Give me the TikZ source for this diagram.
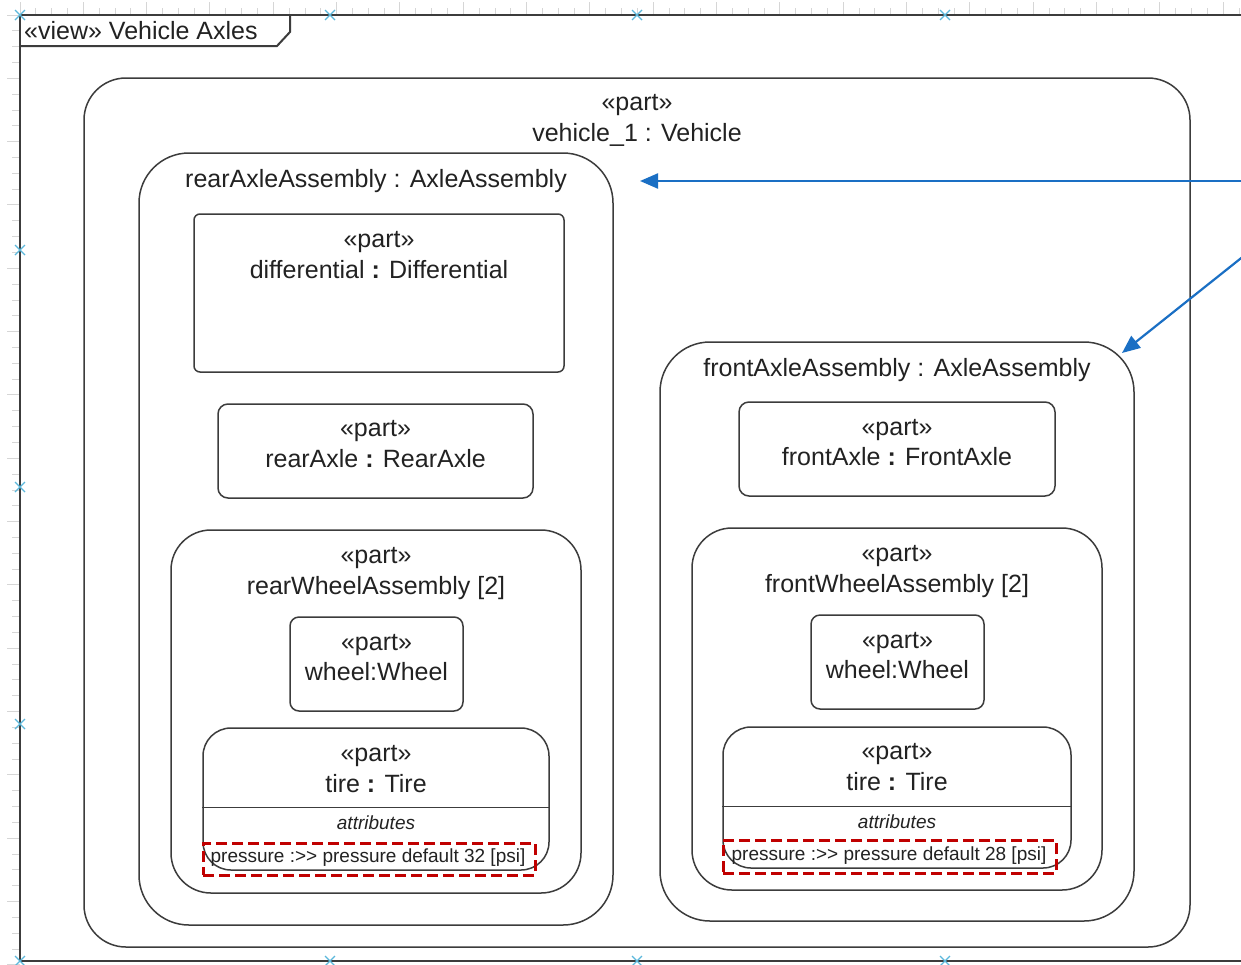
\documentclass[tikz,border=0pt]{standalone}
\usepackage{fontspec}
\setmainfont{Liberation Sans}
\usetikzlibrary{arrows.meta}

\definecolor{edge}{HTML}{3C3C3C}
\definecolor{ink}{HTML}{222222}
\definecolor{link}{HTML}{1A6FC4}
\definecolor{flag}{HTML}{C00000}
\definecolor{rulegray}{HTML}{D6D6D6}
\definecolor{anchorblue}{HTML}{5BB8DC}

% rounded part box spanning (x1,y1)-(x2,y2): name, x1, y1, x2, y2, radius
\newcommand\partframe[6]{%
  \node[partbox, rounded corners=#6pt, minimum width={#4pt-#2pt}, minimum height={#5pt-#3pt}]
    (#1) at ({(#2+#4)/2},{(#3+#5)/2}) {};}
% dashed highlight spanning (x1,y1)-(x2,y2)
\newcommand\flagframe[5]{%
  \node[hilite, minimum width={#4pt-#2pt}, minimum height={#5pt-#3pt}]
    (#1) at ({(#2+#4)/2},{(#3+#5)/2}) {};}

\begin{document}
\begin{tikzpicture}[x=1pt,y=-1pt,
  partbox/.style={draw=edge, line width=1.5pt, inner sep=0pt, rectangle},
  hilite/.style={draw=flag, line width=3pt, dash pattern=on 11pt off 5pt, inner sep=0pt, rectangle},
  txt/.style={text=ink, font=\fontsize{25}{29}\selectfont, inner sep=0pt, anchor=base},
  small/.style={text=ink, font=\fontsize{19}{22}\selectfont, inner sep=0pt, anchor=base},
  pointer/.style={draw=link, line width=2.2pt, -{Triangle[length=18pt,width=15pt]}},
  xmark/.style={draw=anchorblue, line width=1.3pt},
]
\useasboundingbox (0,0) rectangle (1241,964);
\fill[white] (0,0) rectangle (1241,964);

% rulers
\foreach \i in {0,...,77} {
  \pgfmathsetmacro\xx{20+15.83*\i}
  \pgfmathtruncatemacro\maj{mod(\i,4)==0}
  \ifnum\maj=1
    \draw[rulegray, line width=1pt] (\xx,2) -- (\xx,15);
  \else
    \draw[rulegray, line width=0.8pt] (\xx,8) -- (\xx,15);
  \fi
}
\foreach \i in {0,...,60} {
  \pgfmathsetmacro\yy{15+15.83*\i}
  \pgfmathtruncatemacro\maj{mod(\i,4)==0}
  \ifnum\maj=1
    \draw[rulegray, line width=1pt] (7,\yy) -- (20,\yy);
  \else
    \draw[rulegray, line width=0.8pt] (12,\yy) -- (20,\yy);
  \fi
}

% diagram frame with its name tab
\draw[edge, line width=2pt] (1241,15) -- (20,15) -- (20,961) -- (1241,961);
\draw[edge, line width=2pt] (20,46) -- (277,46) -- (290,32) -- (290,15);
\node[txt, anchor=base west] (viewname) at (24,39) {«view» Vehicle Axles};

% anchor markers on the frame
\foreach \a/\b in {20/15,330/15,637/15,945/15,20/250,20/487,20/724,20/961,330/961,637/961,945/961} {
  \draw[xmark] (\a-5,\b-5) -- (\a+5,\b+5) (\a-5,\b+5) -- (\a+5,\b-5);
}

% vehicle
\partframe{veh}{84}{78}{1190}{947}{42}
\node[txt] (vehS) at (637,110) {«part»};
\node[txt] (vehN) at (637,141) {vehicle\_1 : Vehicle};

% rear axle assembly
\partframe{rear}{139}{153}{613}{925}{50}
\node[txt] (rearN) at (376,187) {rearAxleAssembly : AxleAssembly};

\partframe{diff}{194}{214}{564}{372}{6}
\node[txt] (diffS) at (379,247) {«part»};
\node[txt] (diffN) at (379,278) {differential \textbf{:} Differential};

\partframe{raxle}{218}{404}{533}{498}{10}
\node[txt] (raxleS) at (375.5,436) {«part»};
\node[txt] (raxleN) at (375.5,467) {rearAxle \textbf{:} RearAxle};

\partframe{rwa}{171}{530}{581}{893}{40}
\node[txt] (rwaS) at (376,563) {«part»};
\node[txt] (rwaN) at (376,594) {rearWheelAssembly [2]};

\partframe{rwheel}{290}{617}{463}{711}{9}
\node[txt] (rwheelS) at (376.5,650) {«part»};
\node[txt] (rwheelN) at (376.5,680) {wheel:Wheel};

\partframe{rtire}{203}{728}{549}{870}{28}
\node[txt] (rtireS) at (376,761) {«part»};
\node[txt] (rtireN) at (376,792) {tire \textbf{:} Tire};
\draw[edge, line width=1.5pt] ([yshift=-80pt]rtire.north west) -- ([yshift=-80pt]rtire.north east);
\node[small] (rtireA) at (376,829) {\itshape attributes};
\node[small] (rtireP) at (368,862) {pressure :{>}{>} pressure default 32 [psi]};
\flagframe{rflag}{203}{843}{535}{875}

% front axle assembly
\partframe{front}{660}{342}{1134}{921}{50}
\node[txt] (frontN) at (897,376) {frontAxleAssembly : AxleAssembly};

\partframe{faxle}{739}{402}{1055}{496}{10}
\node[txt] (faxleS) at (897,435) {«part»};
\node[txt] (faxleN) at (897,465) {frontAxle \textbf{:} FrontAxle};

\partframe{fwa}{692}{528}{1102}{890}{40}
\node[txt] (fwaS) at (897,561) {«part»};
\node[txt] (fwaN) at (897,592) {frontWheelAssembly [2]};

\partframe{fwheel}{811}{615}{984}{709}{9}
\node[txt] (fwheelS) at (897.5,648) {«part»};
\node[txt] (fwheelN) at (897.5,678) {wheel:Wheel};

\partframe{ftire}{723}{727}{1071}{868}{28}
\node[txt] (ftireS) at (897,759) {«part»};
\node[txt] (ftireN) at (897,790) {tire \textbf{:} Tire};
\draw[edge, line width=1.5pt] ([yshift=-80pt]ftire.north west) -- ([yshift=-80pt]ftire.north east);
\node[small] (ftireA) at (897,828) {\itshape attributes};
\node[small] (ftireP) at (889,860) {pressure :{>}{>} pressure default 28 [psi]};
\flagframe{fflag}{723}{840}{1056}{873}

% callout arrows coming in from the right
\coordinate (srcA) at (1250,181);
\coordinate (tipA) at (640,181);
\coordinate (srcB) at (1250,251);
\coordinate (tipB) at (1122,353);
\draw[pointer] (srcA) -- (tipA);
\draw[pointer] (srcB) -- (tipB);
\end{tikzpicture}
\end{document}
